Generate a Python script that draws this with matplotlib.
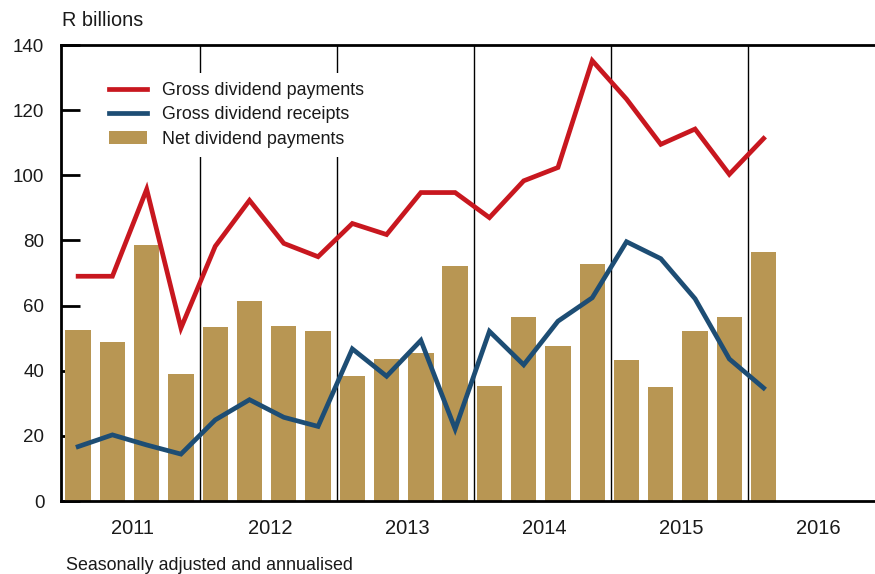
import matplotlib
matplotlib.use("Agg")
import matplotlib.pyplot as plt
from matplotlib.lines import Line2D
from matplotlib.patches import Patch
import numpy as np

plt.rcParams['font.family'] = ['Liberation Sans', 'DejaVu Sans']

years = ['2011', '2012', '2013', '2014', '2015', '2016']
quarters = ['2011Q1', '2011Q2', '2011Q3', '2011Q4',
            '2012Q1', '2012Q2', '2012Q3', '2012Q4',
            '2013Q1', '2013Q2', '2013Q3', '2013Q4',
            '2014Q1', '2014Q2', '2014Q3', '2014Q4',
            '2015Q1', '2015Q2', '2015Q3', '2015Q4',
            '2016Q1']
gross_payments = [69.0, 69.0, 95.7, 53.1, 78.2, 92.3, 79.1, 75.0,
                  85.2, 81.8, 94.7, 94.7, 87.0, 98.3, 102.4, 135.2,
                  123.4, 109.5, 114.2, 100.3, 111.3]
gross_receipts = [16.7, 20.3, 17.2, 14.4, 24.9, 31.1, 25.7, 22.9,
                  46.7, 38.3, 49.3, 22.1, 52.1, 41.8, 55.2, 62.4,
                  79.6, 74.4, 62.1, 43.6, 34.7]
net_payments = [52.6, 48.9, 78.5, 39.1, 53.5, 61.5, 53.8, 52.3,
                38.5, 43.7, 45.5, 72.3, 35.4, 56.6, 47.7, 72.9,
                43.4, 35.1, 52.3, 56.6, 76.6]

RED = '#C8171F'
BLUE = '#1D4D74'
GOLD = '#B89653'
TXT = '#1a1a1a'

W, H = 875, 574
fig = plt.figure(figsize=(W / 100, H / 100), dpi=100)
ax = fig.add_axes([61 / W, 1 - 501 / H, (W - 61) / W, (501 - 45) / H])

x = np.arange(len(quarters))
ax.bar(x, net_payments, width=0.74, color=GOLD, zorder=2)
for k in range(1, len(years)):
    ax.axvline(4 * k - 0.5 + 0.05, color='black', lw=1.0, zorder=2.5)
ax.plot(x, gross_payments, color=RED, lw=3.4, zorder=3, solid_joinstyle='miter')
ax.plot(x, gross_receipts, color=BLUE, lw=3.4, zorder=3, solid_joinstyle='miter')

ax.set_xlim(-0.5, 23.25)
ax.set_ylim(0, 140)
ax.set_yticks(np.arange(0, 141, 20))
ax.tick_params(axis='y', direction='in', length=14, width=2, pad=12,
               labelsize=13.5, color='black', labelcolor=TXT)
year_centers = [4 * i + 1.6 for i in range(len(years))]
ax.set_xticks(year_centers)
ax.set_xticklabels(years)
ax.tick_params(axis='x', length=0, pad=13, labelsize=14.5, labelcolor=TXT)

for s in ['left', 'bottom', 'top']:
    ax.spines[s].set_linewidth(2)
    ax.spines[s].set_color('black')
ax.spines['right'].set_visible(False)

handles = [Line2D([0], [0], color=RED, lw=3.4),
           Line2D([0], [0], color=BLUE, lw=3.4),
           Patch(facecolor=GOLD, edgecolor='none')]
labels = ['Gross dividend payments', 'Gross dividend receipts', 'Net dividend payments']
leg = ax.legend(handles, labels, loc='upper left',
                bbox_to_anchor=((100 - 61) / 814, (501 - 73) / 456),
                borderaxespad=0, frameon=True, facecolor='white', edgecolor='none',
                framealpha=1, fancybox=False, fontsize=12.9, handlelength=2.1,
                handletextpad=0.85, labelspacing=0.41, borderpad=0.5)
for t in leg.get_texts():
    t.set_color(TXT)
leg.set_zorder(5)

fig.text(62 / W, 1 - 20 / H, 'R billions', fontsize=14.3, va='center', ha='left', color=TXT)
fig.text(66 / W, 1 - 566 / H, 'Seasonally adjusted and annualised', fontsize=12.9,
         va='center', ha='left', color=TXT)

fig.savefig('out.png', dpi=100)
